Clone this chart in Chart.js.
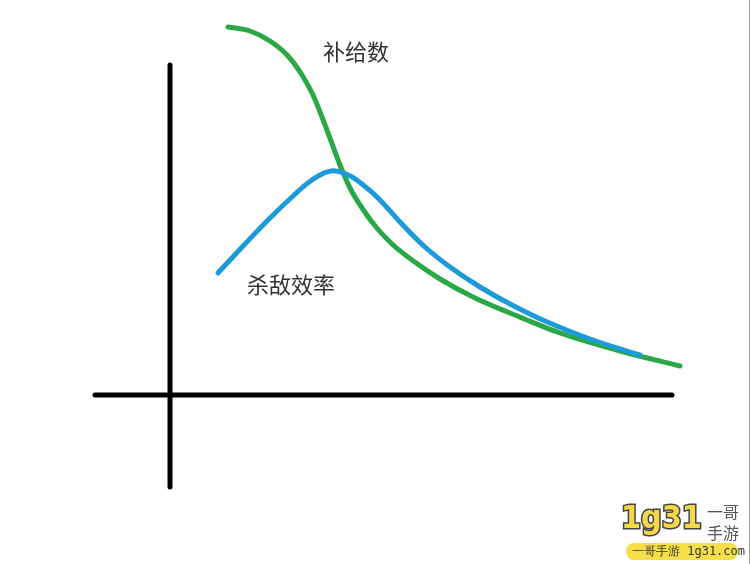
<!DOCTYPE html>
<html><head><meta charset="utf-8">
<script src="https://cdn.jsdelivr.net/npm/chart.js@4"></script>
<style>html,body{margin:0;padding:0;background:#fff;}#wrap{width:750px;height:564px;position:relative;}</style>
</head><body><div id="wrap"><canvas id="c"></canvas></div>
<script>
// 补给数 curve (green)
const supplyX = [1.16,1.6,2.0,2.36,2.64,2.86,3.04,3.22,3.4,3.6,3.84,4.12,4.44,4.84,5.4,6.1,6.8,7.8,9.0,10.2];
const supplyY = [7.36,7.28,7.08,6.78,6.4,6.0,5.56,5.08,4.6,4.14,3.74,3.36,3.02,2.7,2.32,1.94,1.64,1.24,0.88,0.58];
// 杀敌效率 curve (blue)
const killX = [0.96,1.5,2.0,2.44,2.84,3.22,3.56,3.84,4.16,4.6,5.1,5.6,6.2,6.8,7.5,8.4,9.4];
const killY = [2.44,3.02,3.54,3.96,4.3,4.48,4.4,4.22,3.94,3.46,2.96,2.56,2.16,1.82,1.48,1.12,0.8];
// hand-drawn axes
const vAxisX = [0,0];
const vAxisY = [6.6,-1.84];
const hAxisX = [-1.5,10.04];
const hAxisY = [0,0];
const seriesNames = ['补给数','杀敌效率'];

const pts = (xs, ys) => xs.map((x,i)=>({x, y: ys[i]}));

const labelPlugin = {
  id:'labels',
  afterDatasetsDraw(chart){
    const {ctx, scales:{x,y}} = chart;
    ctx.save();
    ctx.fillStyle = '#333';
    ctx.font = '22px "Noto Sans CJK SC"';
    ctx.textAlign = 'center'; ctx.textBaseline = 'middle';
    ctx.fillText(seriesNames[0], x.getPixelForValue(3.72), y.getPixelForValue(6.86));
    ctx.fillText(seriesNames[1], x.getPixelForValue(2.42), y.getPixelForValue(2.2));
    // right edge border
    ctx.strokeStyle = '#999'; ctx.lineWidth = 1;
    ctx.beginPath(); ctx.moveTo(749.5,0); ctx.lineTo(749.5,564); ctx.stroke();
    // watermark
    ctx.fillStyle = '#f5e04a';
    ctx.beginPath(); ctx.roundRect(626,543,112,17,8); ctx.fill();
    ctx.fillStyle = '#333'; ctx.font = '12px "DejaVu Sans Mono"';
    ctx.textAlign = 'left';
    ctx.fillText('一哥手游 1g31.com', 632, 552);
    ctx.font = 'bold 32px "DejaVu Sans Condensed"';
    ctx.lineWidth = 3; ctx.strokeStyle = '#444';
    ctx.strokeText('1g31', 621, 520);
    ctx.fillStyle = '#f5d84a';
    ctx.fillText('1g31', 621, 520);
    ctx.fillStyle = '#555'; ctx.font = '16px "Noto Sans CJK SC"';
    ctx.fillText('一哥', 707, 512);
    ctx.fillText('手游', 707, 533);
    ctx.restore();
  }
};

new Chart(document.getElementById('c'), {
  type:'scatter',
  data:{datasets:[
    {label:'vaxis', data:pts(vAxisX,vAxisY), showLine:true, borderColor:'#000', borderWidth:5, pointRadius:0, borderCapStyle:'round'},
    {label:'haxis', data:pts(hAxisX,hAxisY), showLine:true, borderColor:'#000', borderWidth:5, pointRadius:0, borderCapStyle:'round'},
    {label:seriesNames[1], data:pts(killX,killY), showLine:true, borderColor:'#1d9ad8', borderWidth:5, pointRadius:0, tension:0.4, borderCapStyle:'round', borderJoinStyle:'round'},
    {label:seriesNames[0], data:pts(supplyX,supplyY), showLine:true, borderColor:'#2aa845', borderWidth:5, pointRadius:0, cubicInterpolationMode:'monotone', borderCapStyle:'round', borderJoinStyle:'round'}
  ]},
  options:{
    responsive:true, maintainAspectRatio:false, animation:false,
    layout:{padding:0},
    plugins:{legend:{display:false}, tooltip:{enabled:false}},
    scales:{
      x:{type:'linear', min:-3.4, max:11.6, display:false},
      y:{type:'linear', min:-3.38, max:7.9, display:false}
    }
  },
  plugins:[labelPlugin]
});
</script></body></html>
